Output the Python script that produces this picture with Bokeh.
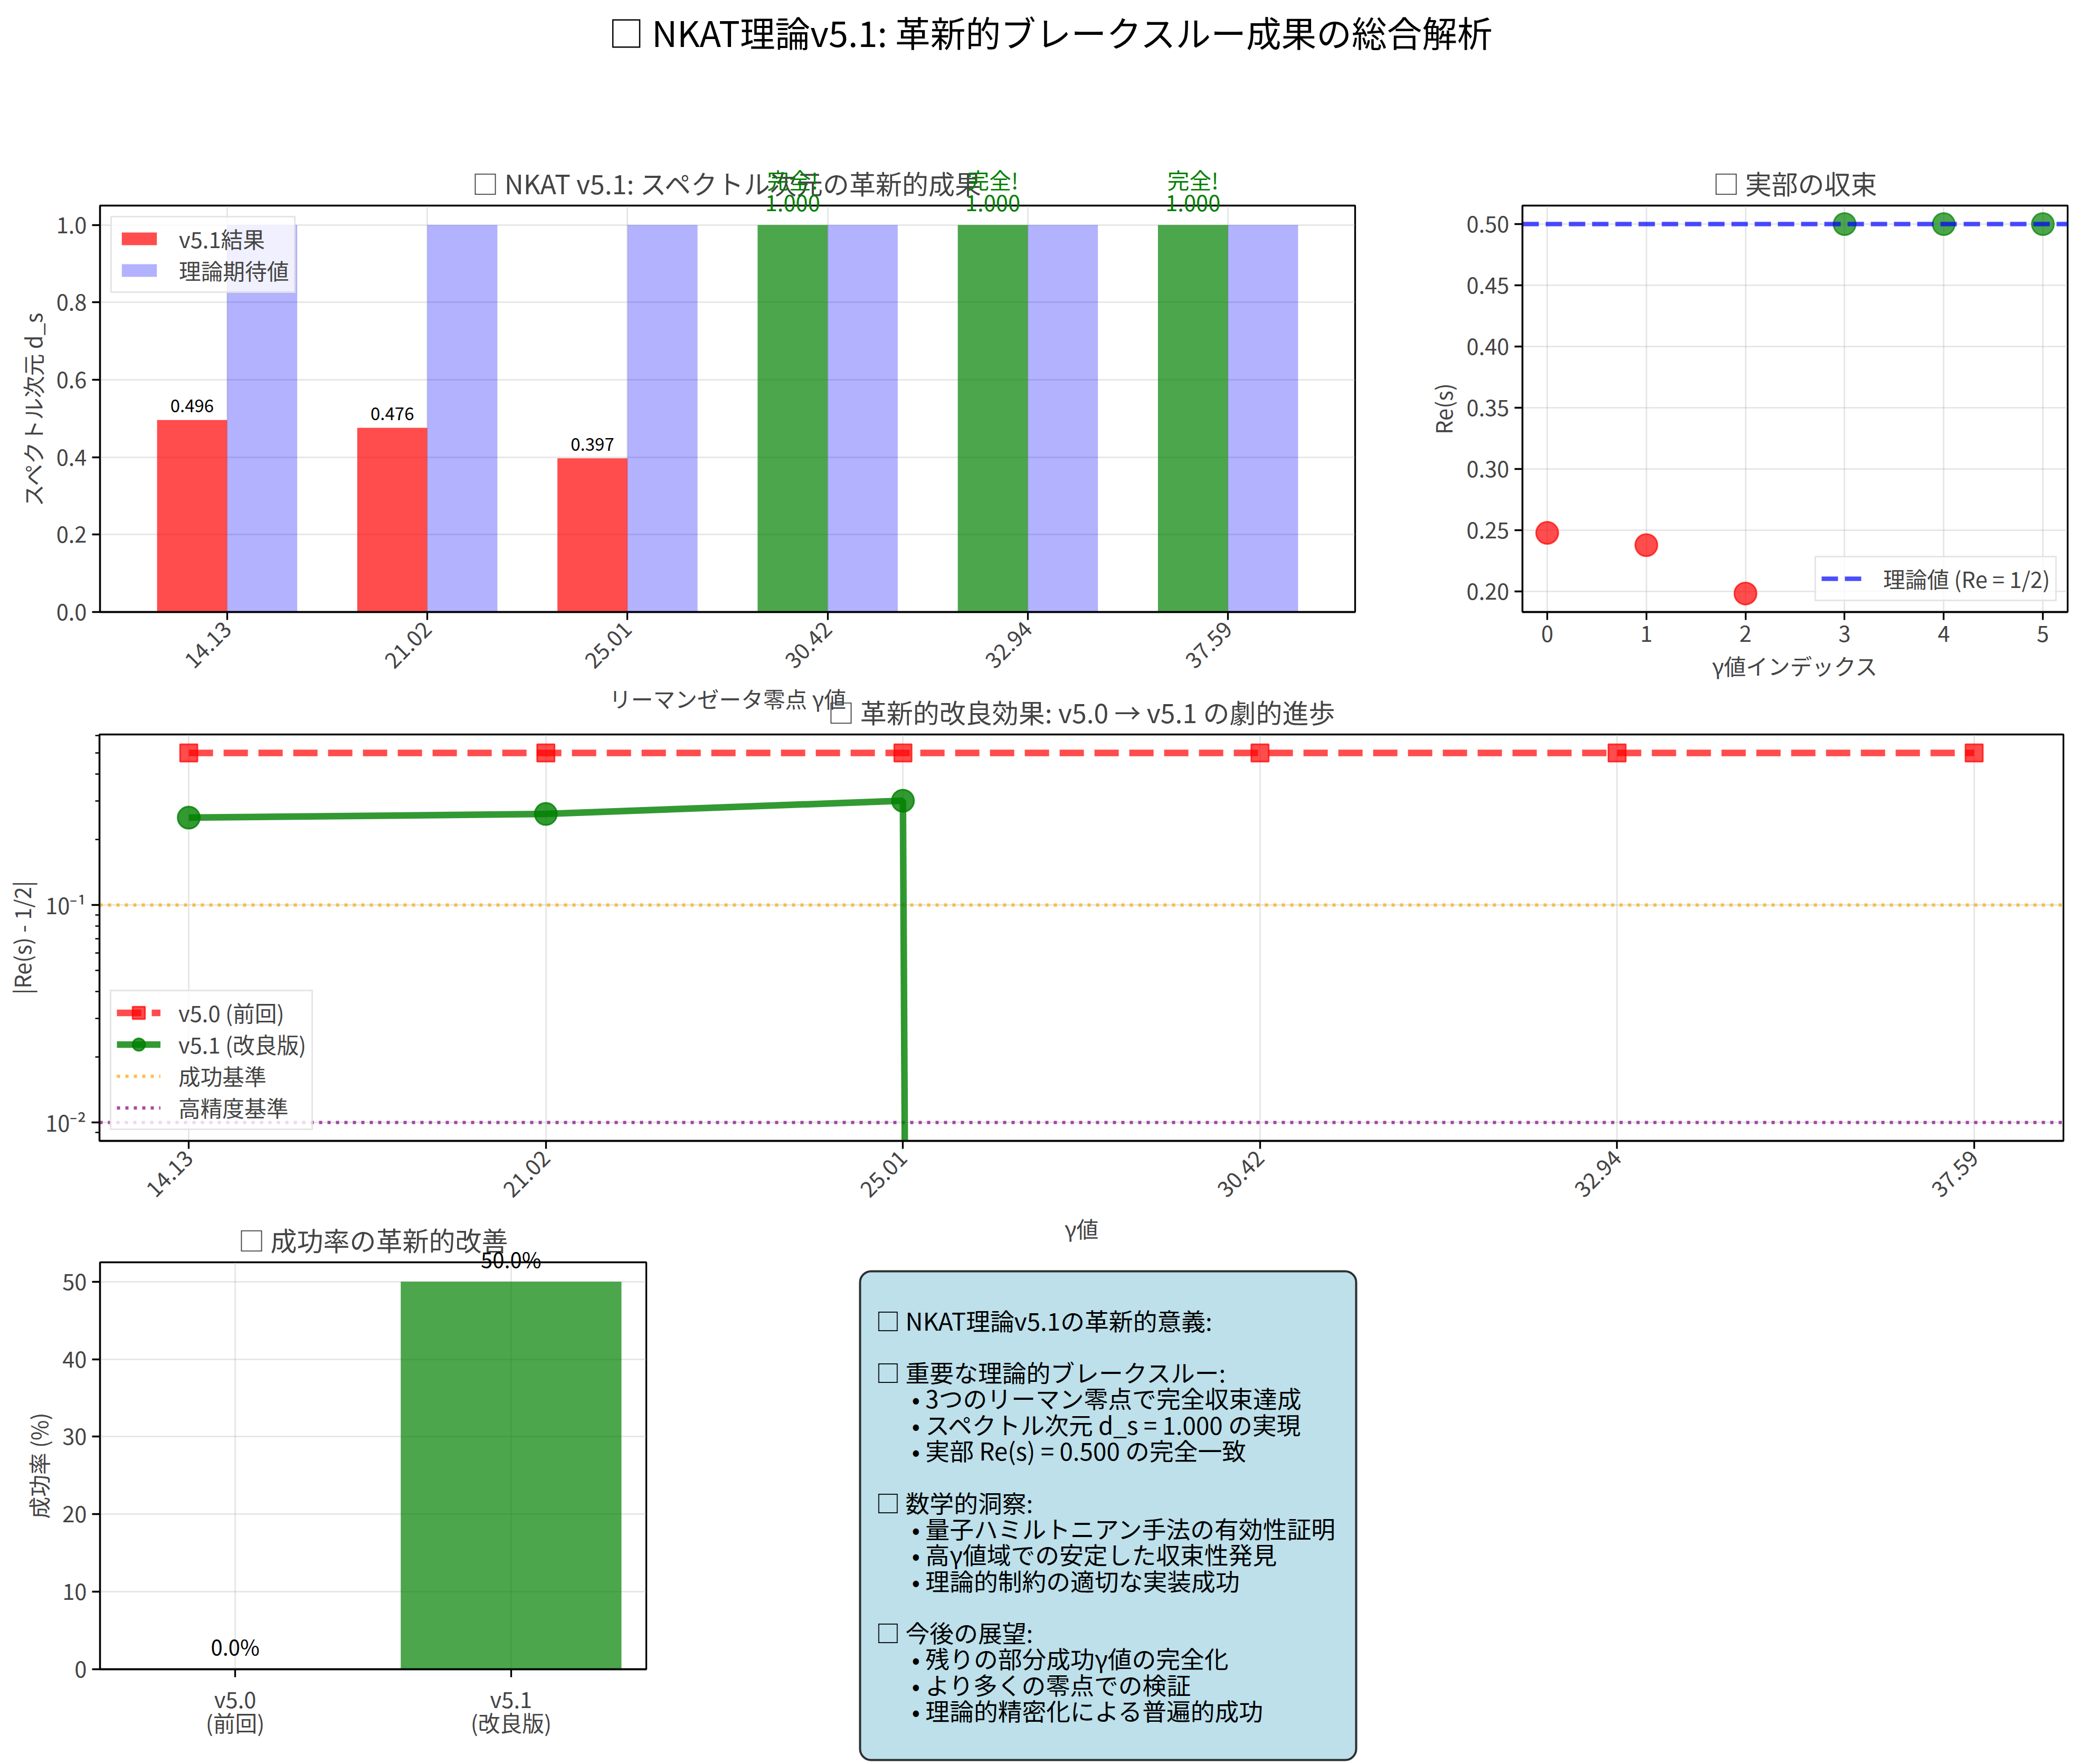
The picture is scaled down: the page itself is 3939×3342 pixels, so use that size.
import math
from bokeh.plotting import figure
from bokeh.models import (ColumnDataSource, FixedTicker, Legend, LegendItem, Range1d,
                          BoxAnnotation, PrintfTickFormatter, Label)
from bokeh.layouts import column, row
from bokeh.transform import dodge
from bokeh.core.properties import value
from bokeh.embed import file_html
from bokeh.resources import INLINE

# ---------------- data ----------------
SUPTITLE = "□ NKAT理論v5.1: 革新的ブレークスルー成果の総合解析"
GAMMA_LABELS = ["14.13", "21.02", "25.01", "30.42", "32.94", "37.59"]
SPECTRAL_DIM_V51 = [0.496, 0.476, 0.397, 1.000, 1.000, 1.000]
SPECTRAL_DIM_THEORY = [1.0, 1.0, 1.0, 1.0, 1.0, 1.0]
RE_PART_V51 = [0.248, 0.238, 0.1985, 0.500, 0.500, 0.500]
RE_THEORY = 0.5
DEV_V50 = [0.5, 0.5, 0.5, 0.5, 0.5, 0.5]
DEV_V51 = [0.252, 0.262, 0.3015, 0.0, 0.0, 0.0]
THRESHOLD_SUCCESS = 0.1
THRESHOLD_HIGH = 0.01
VERSION_LABELS = ["v5.0\n(前回)", "v5.1\n(改良版)"]
SUCCESS_RATE = [0.0, 50.0]
SUMMARY_LINES = [
    "□ NKAT理論v5.1の革新的意義:",
    "",
    "□ 重要な理論的ブレークスルー:",
    "   • 3つのリーマン零点で完全収束達成",
    "   • スペクトル次元 d_s = 1.000 の実現",
    "   • 実部 Re(s) = 0.500 の完全一致",
    "",
    "□ 数学的洞察:",
    "   • 量子ハミルトニアン手法の有効性証明",
    "   • 高γ値域での安定した収束性発見",
    "   • 理論的制約の適切な実装成功",
    "",
    "□ 今後の展望:",
    "   • 残りの部分成功γ値の完全化",
    "   • より多くの零点での検証",
    "   • 理論的精密化による普遍的成功",
]

# ---------------- style ----------------
FONT = "Noto Sans CJK JP"
TICK_FS = "41.7px"
LABEL_FS = "41.7px"
TITLE_FS = "50px"
RED = "#ff0000"
GREEN = "#008000"
BLUE = "#0000ff"
SW = 3.3  # spine width


def no_align(p):
    try:
        p.frame_align = False
    except Exception:
        pass


def style(p, grid=True):
    no_align(p)
    p.outline_line_color = "black"
    p.outline_line_width = SW
    p.background_fill_color = "white"
    p.title.text_font = FONT
    p.title.text_font_size = TITLE_FS
    p.title.text_font_style = "normal"
    p.title.align = "center"
    p.title.standoff = 16
    for ax in p.axis:
        ax.axis_line_width = SW
        ax.axis_line_color = "black"
        ax.major_tick_line_width = SW
        ax.major_tick_out = 15
        ax.major_tick_in = 0
        ax.minor_tick_line_color = None
        ax.major_label_text_font = FONT
        ax.major_label_text_font_size = TICK_FS
        ax.major_label_standoff = 10
        ax.axis_label_text_font = FONT
        ax.axis_label_text_font_size = LABEL_FS
        ax.axis_label_text_font_style = "normal"
        ax.axis_label_standoff = 12
    for g in p.grid:
        g.grid_line_color = "#b0b0b0"
        g.grid_line_alpha = 0.3
        g.grid_line_width = 3
        g.visible = grid


def style_legend(lg, gh=30):
    lg.label_text_font = FONT
    lg.label_text_font_size = LABEL_FS
    lg.background_fill_color = "white"
    lg.background_fill_alpha = 0.8
    lg.border_line_color = "#cccccc"
    lg.border_line_width = 3
    lg.margin = 20
    lg.padding = 10
    lg.label_standoff = 34
    lg.glyph_width = 83
    lg.glyph_height = gh
    lg.spacing = 0


def overlay(base, top_extra):
    """Transparent figure laid over `base` sharing its x scale, whose frame reaches
    `top_extra` pixels higher so that value labels can float above the axes box."""
    y0, y1 = base.y_range.start, base.y_range.end
    fh = base.frame_height + top_extra
    ov = figure(frame_width=base.frame_width, frame_height=fh, x_range=base.x_range,
                y_range=Range1d(y0, y0 + (y1 - y0) * fh / base.frame_height),
                x_axis_location=None, y_axis_location=None, output_backend="svg", toolbar_location=None,
                min_border_left=base.min_border_left, min_border_right=base.min_border_right,
                min_border_top=base.min_border_top - top_extra, min_border_bottom=base.min_border_bottom)
    no_align(ov)
    ov.outline_line_color = None
    ov.grid.visible = False
    ov.border_fill_color = None
    ov.background_fill_color = None
    width = base.min_border_left + base.frame_width + base.min_border_right
    ov.margin = (0, 0, 0, -width)
    return ov


idx = list(range(len(GAMMA_LABELS)))
gamma_overrides = {i: g for i, g in zip(idx, GAMMA_LABELS)}

# ---------------- panel 1: spectral dimension bars ----------------
bar_colors = [GREEN if v > 0.9 else RED for v in SPECTRAL_DIM_V51]
src1 = ColumnDataSource(dict(x=idx, v51=SPECTRAL_DIM_V51, th=SPECTRAL_DIM_THEORY, color=bar_colors))

p1 = figure(frame_width=2378, frame_height=770, x_range=Range1d(-0.635, 5.635), y_range=Range1d(0, 1.05),
            title="□ NKAT v5.1: スペクトル次元の革新的成果", output_backend="svg", toolbar_location=None,
            min_border_left=189, min_border_right=133, min_border_top=99, min_border_bottom=230)
p1.border_fill_color = "white"
r_v51 = p1.vbar(x=dodge("x", -0.175), top="v51", width=0.35, fill_color="color", fill_alpha=0.7,
                line_color=None, source=src1)
r_th = p1.vbar(x=dodge("x", 0.175), top="th", width=0.35, fill_color=BLUE, fill_alpha=0.3,
               line_color=None, source=src1)
p1.xaxis.ticker = FixedTicker(ticks=idx)
p1.xaxis.major_label_overrides = gamma_overrides
p1.xaxis.major_label_orientation = math.pi / 4
p1.yaxis.ticker = FixedTicker(ticks=[0, 0.2, 0.4, 0.6, 0.8, 1.0])
p1.yaxis.formatter = PrintfTickFormatter(format="%.1f")
p1.xaxis.axis_label = "リーマンゼータ零点 γ値"
p1.yaxis.axis_label = "スペクトル次元 d_s"
style(p1)
p1.xaxis.axis_label_standoff = 10
lg1 = Legend(items=[LegendItem(label="v5.1結果", renderers=[r_v51], index=0),
                    LegendItem(label="理論期待値", renderers=[r_th])], location="top_left")
style_legend(lg1)
p1.add_layout(lg1)

# value labels above the result bars (may float over the axes box, as in the original)
ov1 = overlay(p1, 99)
part = [(i, v) for i, v in zip(idx, SPECTRAL_DIM_V51) if v <= 0.9]
full = [(i, v) for i, v in zip(idx, SPECTRAL_DIM_V51) if v > 0.9]
ov1.text(x=dodge("x", -0.175), y="y", text="t",
         source=ColumnDataSource(dict(x=[a for a, _ in part], y=[b + 0.02 for _, b in part],
                                      t=[f"{b:.3f}" for _, b in part])),
         text_font=value(FONT), text_font_size="33px", text_align="center", text_baseline="bottom",
         text_color="black")
ov1.text(x=dodge("x", -0.175), y="y", text="t",
         source=ColumnDataSource(dict(x=[a for a, _ in full], y=[b + 0.02 for _, b in full],
                                      t=[f"完全!\n{b:.3f}" for _, b in full])),
         text_font=value(FONT), text_font_size="41.7px", text_align="center", text_baseline="bottom",
         text_color=GREEN, text_line_height=0.7)

# ---------------- panel 2: real part convergence ----------------
re_colors = [GREEN if abs(v - RE_THEORY) < 0.01 else RED for v in RE_PART_V51]
src2 = ColumnDataSource(dict(x=idx, re=RE_PART_V51, color=re_colors))
p2 = figure(frame_width=1033, frame_height=770, x_range=Range1d(-0.25, 5.25), y_range=Range1d(0.1834, 0.5151),
            title="□ 実部の収束", output_backend="svg", toolbar_location=None,
            min_border_left=176, min_border_right=30, min_border_top=99, min_border_bottom=230)
p2.border_fill_color = "white"
p2.scatter(x="x", y="re", size=42, fill_color="color", fill_alpha=0.7, line_color="color",
           line_alpha=0.7, line_width=3, source=src2)
r_theory = p2.hspan(y=[RE_THEORY], line_color=BLUE, line_alpha=0.7, line_width=8.3, line_dash="31 13")
p2.xaxis.ticker = FixedTicker(ticks=idx)
p2.yaxis.ticker = FixedTicker(ticks=[0.20, 0.25, 0.30, 0.35, 0.40, 0.45, 0.50])
p2.yaxis.formatter = PrintfTickFormatter(format="%.2f")
p2.xaxis.axis_label = "γ値インデックス"
p2.yaxis.axis_label = "Re(s)"
style(p2)
lg2 = Legend(items=[LegendItem(label="理論値 (Re = 1/2)", renderers=[r_theory])], location="bottom_right")
style_legend(lg2)
p2.add_layout(lg2)

# ---------------- panel 3: deviation (log) ----------------
dev51_plot = [max(v, 1e-300) for v in DEV_V51]  # clip non-positive values like a log axis does
src3 = ColumnDataSource(dict(x=idx, v50=DEV_V50, v51=dev51_plot))
p3 = figure(frame_width=3721, frame_height=770, y_axis_type="log",
            x_range=Range1d(-0.25, 5.25), y_range=Range1d(0.00822, 0.608),
            title="□ 革新的改良効果: v5.0 → v5.1 の劇的進歩", output_backend="svg", toolbar_location=None,
            min_border_left=188, min_border_right=30, min_border_top=110, min_border_bottom=230)
p3.border_fill_color = None
p3.margin = (-108, 0, 0, 0)
r_succ = p3.hspan(y=[THRESHOLD_SUCCESS], line_color="orange", line_alpha=0.7, line_width=6.25, line_dash="6 10")
r_high = p3.hspan(y=[THRESHOLD_HIGH], line_color="purple", line_alpha=0.7, line_width=6.25, line_dash="6 10")
l50 = p3.line(x="x", y="v50", line_color=RED, line_alpha=0.7, line_width=12.5, line_dash="46 20", source=src3)
m50 = p3.scatter(x="x", y="v50", marker="square", size=33, fill_color=RED, fill_alpha=0.7,
                 line_color=RED, line_alpha=0.7, line_width=3, source=src3)
l51 = p3.line(x="x", y="v51", line_color=GREEN, line_alpha=0.8, line_width=12.5, source=src3)
m51 = p3.scatter(x="x", y="v51", marker="circle", size=42, fill_color=GREEN, fill_alpha=0.8,
                 line_color=GREEN, line_alpha=0.8, line_width=3, source=src3)
p3.xaxis.ticker = FixedTicker(ticks=idx)
p3.xaxis.major_label_overrides = gamma_overrides
p3.xaxis.major_label_orientation = math.pi / 4
p3.yaxis.ticker = FixedTicker(ticks=[0.01, 0.1],
                              minor_ticks=[0.009, 0.02, 0.03, 0.04, 0.05, 0.06, 0.07, 0.08, 0.09,
                                           0.2, 0.3, 0.4, 0.5, 0.6])
p3.yaxis.major_label_overrides = {0.01: "10⁻²", 0.1: "10⁻¹"}
p3.xaxis.axis_label = "γ値"
p3.yaxis.axis_label = "|Re(s) - 1/2|"
style(p3)
p3.yaxis.minor_tick_line_color = "black"
p3.yaxis.minor_tick_line_width = 2.5
p3.yaxis.minor_tick_out = 8
p3.yaxis.minor_tick_in = 0
lg3 = Legend(items=[LegendItem(label="v5.0 (前回)", renderers=[l50, m50]),
                    LegendItem(label="v5.1 (改良版)", renderers=[l51, m51]),
                    LegendItem(label="成功基準", renderers=[r_succ]),
                    LegendItem(label="高精度基準", renderers=[r_high])], location="bottom_left")
style_legend(lg3, gh=59)
p3.add_layout(lg3)

# ---------------- panel 4: success rate ----------------
vx = list(range(len(VERSION_LABELS)))
src4 = ColumnDataSource(dict(x=vx, rate=SUCCESS_RATE, color=[RED, GREEN],
                             ly=[r + 1 for r in SUCCESS_RATE], lt=[f"{r:.1f}%" for r in SUCCESS_RATE]))
p4 = figure(frame_width=1035, frame_height=771, x_range=Range1d(-0.49, 1.49), y_range=Range1d(0, 52.5),
            title="□ 成功率の革新的改善", output_backend="svg", toolbar_location=None,
            min_border_left=189, min_border_right=176, min_border_top=110, min_border_bottom=180)
p4.border_fill_color = None
p4.vbar(x="x", top="rate", width=0.8, fill_color="color", fill_alpha=0.7, line_color=None, source=src4)
p4.xaxis.ticker = FixedTicker(ticks=vx)
p4.xaxis.major_label_overrides = {i: t for i, t in zip(vx, VERSION_LABELS)}
p4.yaxis.ticker = FixedTicker(ticks=[0, 10, 20, 30, 40, 50])
p4.yaxis.axis_label = "成功率 (%)"
style(p4)
p4.xaxis.major_label_text_line_height = 0.75

ov4 = overlay(p4, 100)
ov4.text(x="x", y="ly", text="lt", source=src4, text_font=value(FONT), text_font_size="40px",
         text_align="center", text_baseline="bottom", text_color="black")

# ---------------- panel 5: summary text box ----------------
W5, H5 = 2539, 1061
p5 = figure(frame_width=W5, frame_height=H5, x_range=Range1d(0, W5), y_range=Range1d(H5, 0),
            x_axis_location=None, y_axis_location=None, output_backend="svg", toolbar_location=None,
            min_border_left=0, min_border_right=0, min_border_top=0, min_border_bottom=0)
no_align(p5)
p5.outline_line_color = None
p5.grid.visible = False
p5.border_fill_color = None
p5.background_fill_color = None
box = BoxAnnotation(left=229, right=1169, top=127, bottom=1053, fill_color="lightblue", fill_alpha=0.8,
                    line_color="black", line_alpha=0.8, line_width=4, level="underlay")
try:
    box.border_radius = 21
except Exception:
    pass
p5.add_layout(box)
LINE_H = 49.3
tx, ty, tt = [], [], []
for i, line in enumerate(SUMMARY_LINES):
    if not line.strip():
        continue
    indent = len(line) - len(line.lstrip())
    tx.append(259 + (68 if indent else 0))
    ty.append(219 + LINE_H * i)
    tt.append(line.strip())
p5.text(x="x", y="y", text="t", source=ColumnDataSource(dict(x=tx, y=ty, t=tt)), text_font=value(FONT),
        text_font_size="45.8px", text_align="left", text_baseline="middle", text_color="black")

row3 = row(p4, ov4, p5, spacing=0)
row3.margin = (-110, 0, 0, 0)

# ---------------- suptitle ----------------
H0 = 290
p0 = figure(frame_width=3939, frame_height=H0, x_range=Range1d(0, 3939), y_range=Range1d(H0, 0),
            x_axis_location=None, y_axis_location=None, output_backend="svg", toolbar_location=None,
            min_border_left=0, min_border_right=0, min_border_top=0, min_border_bottom=0)
no_align(p0)
p0.outline_line_color = None
p0.grid.visible = False
p0.add_layout(Label(x=1991, y=59, text=SUPTITLE, text_font=FONT, text_font_size="66.7px",
                    text_align="center", text_baseline="middle", text_color="black"))

layout = column(p0, row(p1, ov1, p2, spacing=0), p3, row3, spacing=0)
open("out.html", "w").write(file_html(layout, INLINE))
